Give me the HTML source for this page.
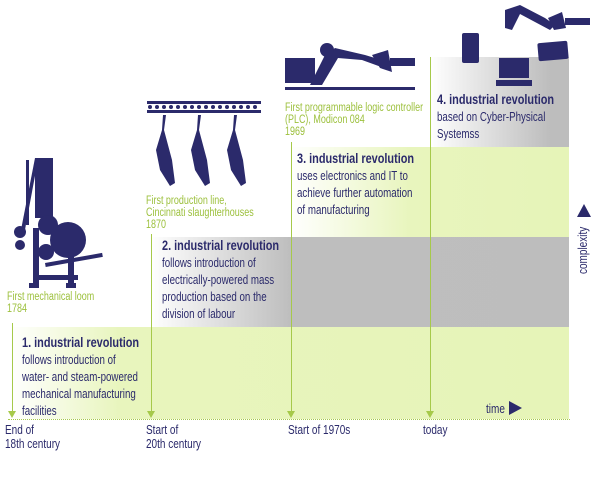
<!DOCTYPE html>
<html><head><meta charset="utf-8"><style>
body{margin:0;width:600px;height:489px;background:#fff;overflow:hidden;position:relative;font-family:"Liberation Sans",sans-serif;}
.b{position:absolute;}
.t{position:absolute;color:#2b2a6b;font-size:12.5px;line-height:17px;transform:scaleX(0.78);transform-origin:0 0;white-space:nowrap;}
.t b{font-size:14px;}
.g{position:absolute;color:#9cc03c;font-size:11.5px;line-height:12px;transform:scaleX(0.78);transform-origin:0 0;white-space:nowrap;}
.l{position:absolute;color:#2b2a6b;font-size:12.5px;line-height:14px;transform:scaleX(0.8);transform-origin:0 0;white-space:nowrap;}
.v{position:absolute;width:1px;background:#a6c94a;}
.ar{position:absolute;width:0;height:0;border-left:4px solid transparent;border-right:4px solid transparent;border-top:7px solid #a6c94a;}
</style></head><body>
<div class="b" style="left:10px;top:327px;width:559px;height:92px;background:linear-gradient(90deg,#fff 0,#e8f5bd 110px,#e6f4b8 100%)"></div>
<div class="b" style="left:150px;top:237px;width:419px;height:90px;background:linear-gradient(90deg,#fff 0,#bebebe 140px,#bdbdbd 100%)"></div>
<div class="b" style="left:290px;top:147px;width:279px;height:90px;background:linear-gradient(90deg,#fff 0,#e8f5bd 120px,#e6f4b8 100%)"></div>
<div class="b" style="left:430px;top:57px;width:139px;height:90px;background:linear-gradient(90deg,#fff 0,#bdbdbd 120px,#bdbdbd 100%)"></div>
<div class="b" style="left:8px;top:419px;width:562px;border-top:1px dotted #a6c94a"></div>
<div class="v" style="left:12px;top:323px;height:90px"></div><div class="ar" style="left:8px;top:411px"></div>
<div class="v" style="left:151px;top:234px;height:179px"></div><div class="ar" style="left:147px;top:411px"></div>
<div class="v" style="left:291px;top:142px;height:271px"></div><div class="ar" style="left:287px;top:411px"></div>
<div class="v" style="left:430px;top:57px;height:356px"></div><div class="ar" style="left:426px;top:411px"></div>

<div class="t" style="left:22px;top:334px"><b>1. industrial revolution</b><br>follows introduction of<br>water- and steam-powered<br>mechanical manufacturing<br>facilities</div>
<div class="t" style="left:162px;top:237px"><b>2. industrial revolution</b><br>follows introduction of<br>electrically-powered mass<br>production based on the<br>division of labour</div>
<div class="t" style="left:297px;top:150px"><b>3. industrial revolution</b><br>uses electronics and IT to<br>achieve further automation<br>of manufacturing</div>
<div class="t" style="left:437px;top:91px"><b>4. industrial revolution</b><br>based on Cyber-Physical<br>Systemss</div>

<div class="g" style="left:7px;top:291px">First mechanical loom<br>1784</div>
<div class="g" style="left:146px;top:195px">First production line,<br>Cincinnati slaughterhouses<br>1870</div>
<div class="g" style="left:285px;top:102px">First programmable logic controller<br>(PLC), Modicon 084<br>1969</div>

<div class="l" style="left:5px;top:423px">End of<br>18th century</div>
<div class="l" style="left:146px;top:423px">Start of<br>20th century</div>
<div class="l" style="left:288px;top:423px">Start of 1970s</div>
<div class="l" style="left:423px;top:423px">today</div>
<div class="l" style="left:486px;top:402px">time</div>
<div class="b" style="left:509px;top:401px;width:0;height:0;border-top:7px solid transparent;border-bottom:7px solid transparent;border-left:13px solid #2b2a6b"></div>
<div class="b" style="left:577px;top:204px;width:0;height:0;border-left:7px solid transparent;border-right:7px solid transparent;border-bottom:13px solid #2b2a6b"></div>
<div class="b" style="left:584px;top:224px;width:0;height:0">
<div style="position:absolute;left:0;top:0;transform:rotate(-90deg) scaleX(0.8);transform-origin:0 0;white-space:nowrap;color:#2b2a6b;font-size:12.5px;line-height:14px;margin-top:50px;margin-left:-8px">complexity</div></div>

<svg class="b" style="left:0;top:0" width="600" height="300" fill="#2b2a6b">
<!-- loom -->
<rect x="35" y="158" width="18" height="60"/><rect x="26" y="160" width="3" height="65"/>
<path d="M35 158 L20 235 L24 235 L37 165Z"/>
<circle cx="20" cy="232" r="6"/><circle cx="20" cy="245" r="5"/>
<circle cx="68" cy="240" r="18"/><circle cx="48" cy="225" r="10"/><circle cx="46" cy="252" r="8"/>
<rect x="33" y="228" width="6" height="60"/><rect x="68" y="250" width="6" height="38"/>
<rect x="33" y="275" width="45" height="5"/><rect x="45" y="263" width="58" height="4" transform="rotate(-10 45 263)"/>
<rect x="29" y="283" width="8" height="5"/><rect x="66" y="283" width="10" height="5"/>
<!-- rail -->
<rect x="147" y="101" width="114" height="3"/><rect x="147" y="110" width="114" height="3"/>
<g><circle cx="150" cy="107" r="2"/><circle cx="157" cy="107" r="2"/><circle cx="164" cy="107" r="2"/><circle cx="171" cy="107" r="2"/><circle cx="178" cy="107" r="2"/><circle cx="185" cy="107" r="2"/><circle cx="192" cy="107" r="2"/><circle cx="199" cy="107" r="2"/><circle cx="206" cy="107" r="2"/><circle cx="213" cy="107" r="2"/><circle cx="220" cy="107" r="2"/><circle cx="227" cy="107" r="2"/><circle cx="234" cy="107" r="2"/><circle cx="241" cy="107" r="2"/><circle cx="248" cy="107" r="2"/><circle cx="255" cy="107" r="2"/></g>
<path d="M163 115 L166 115 L164 130 L172 160 L175 183 L170 186 L160 170 L156 150 L162 130Z"/>
<path d="M198 115 L201 115 L199 130 L207 160 L210 183 L205 186 L195 170 L191 150 L197 130Z"/>
<path d="M234 115 L237 115 L235 130 L243 160 L246 183 L241 186 L231 170 L227 150 L233 130Z"/>
<!-- PLC -->
<rect x="285" y="58" width="30" height="25"/>
<rect x="285" y="87" width="130" height="3"/>
<path d="M310 85 L325 55 L335 48 L365 55 L388 62 L384 68 L362 60 L338 58 L322 85Z"/>
<circle cx="327" cy="50" r="7"/><rect x="390" y="58" width="25" height="8"/>
<path d="M372 55 L388 50 L392 72 L380 68Z"/>
<!-- cyber -->
<rect x="462" y="33" width="17" height="30" rx="2"/>
<rect x="499" y="58" width="30" height="20"/><rect x="496" y="80" width="36" height="6"/>
<rect x="538" y="42" width="30" height="18" rx="2" transform="rotate(-5 553 51)"/>
<path d="M505 10 L520 5 L545 18 L555 25 L550 30 L535 22 L520 14 L512 30 L505 28Z"/>
<rect x="565" y="18" width="25" height="7"/>
<path d="M548 18 L562 12 L566 28 L554 30Z"/>
</svg>
</body></html>
